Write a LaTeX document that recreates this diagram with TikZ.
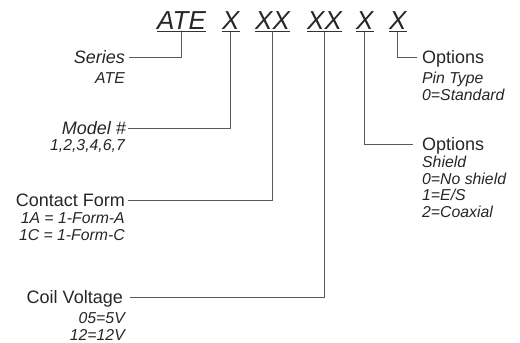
\documentclass[tikz,border=0pt]{standalone}
\usepackage{fontspec}
\setmainfont{Liberation Sans}
\begin{document}
\begin{tikzpicture}[x=1pt,y=-1pt,
  code/.style={font=\fontsize{26}{30}\selectfont\itshape, anchor=base west, inner sep=0pt, text=black!85},
  lab/.style={font=\fontsize{18}{20}\selectfont, inner sep=0pt, text height=13pt, text depth=0pt, text=black!85},
  sub/.style={font=\fontsize{15.8}{17}\selectfont\itshape, inner sep=0pt, text=black!85},
  uline/.style={line width=0.9pt, black!80},
  conn/.style={line width=0.8pt, black!65}]
\useasboundingbox (0,0) rectangle (520,343);
% code
\node[code] (c1) at (157,29) {ATE};
\node[code] (c2) at (222,29) {X};
\node[code] (c3) at (255,29) {XX};
\node[code] (c4) at (307,29) {XX};
\node[code] (c5) at (356,29) {X};
\node[code] (c6) at (389,29) {X};
\foreach \i in {1,...,6}{
  \draw[uline] ([yshift=-2pt]c\i.base west) -- ([yshift=-2pt]c\i.base east);
  \coordinate (u\i) at ([yshift=-2.5pt]c\i.base);
}
% left labels
\node[lab, anchor=base east] (series) at (125,63.5) {\itshape Series};
\node[sub, anchor=base east] (seriess) at (125,83) {ATE};
\node[lab, anchor=base east] (model) at (126,134.5) {\itshape Model \#};
\node[sub, anchor=base east] (models) at (125,150.5) {1,2,3,4,6,7};
\node[lab, anchor=base east] (contact) at (125,206.5) {Contact Form};
\node[sub, anchor=base east] (contacts1) at (125,223.5) {1A = 1-Form-A};
\node[sub, anchor=base east] (contacts2) at (125,240.5) {1C = 1-Form-C};
\node[lab, anchor=base east] (coil) at (123,303.5) {Coil Voltage};
\node[sub, anchor=base east] (coils1) at (125,323) {05=5V};
\node[sub, anchor=base east] (coils2) at (125,340) {12=12V};
% right labels
\node[lab, anchor=base west] (opt1) at (422,63.5) {Options};
\node[sub, anchor=base west] (opt1a) at (422,83) {Pin Type};
\node[sub, anchor=base west] (opt1b) at (422,100.5) {0=Standard};
\node[lab, anchor=base west] (opt2) at (422,150.5) {Options};
\node[sub, anchor=base west] (opt2a) at (422,167.5) {Shield};
\node[sub, anchor=base west] (opt2b) at (422,184) {0=No shield};
\node[sub, anchor=base west] (opt2c) at (422,200.5) {1=E/S};
\node[sub, anchor=base west] (opt2d) at (422,217) {2=Coaxial};
% connectors
\draw[conn] (u1) |- ([xshift=4pt]series.east);
\draw[conn] (u2) |- ([xshift=2pt]model.east);
\draw[conn] (u3) |- ([xshift=3pt]contact.east);
\draw[conn] (u4) |- ([xshift=7pt]coil.east);
\draw[conn] (u5) |- ([xshift=-9pt]opt2.west);
\draw[conn] (u6) |- ([xshift=-5pt]opt1.west);
\end{tikzpicture}
\end{document}
